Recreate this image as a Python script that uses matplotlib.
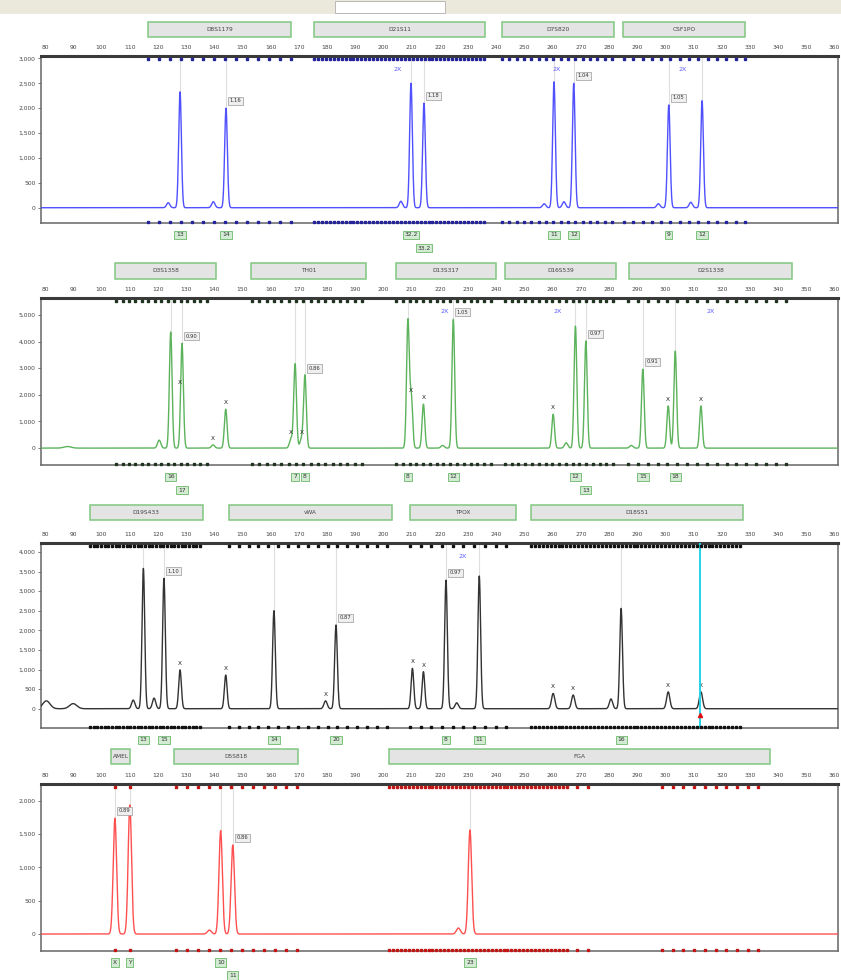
import numpy as np
import matplotlib
matplotlib.use("Agg")
import matplotlib.pyplot as plt
from matplotlib.patches import Rectangle
from matplotlib.transforms import blended_transform_factory

# ---------------------------------------------------------------- data
x_ticks = list(range(80, 361, 10))

# panel 1 - blue dye
p1_markers = ["D8S1179", "D21S11", "D7S820", "CSF1PO"]
p1_marker_lo = [116.7, 175.3, 241.9, 285.1]
p1_marker_hi = [167.3, 236.2, 281.9, 328.1]
p1_bins = [(116.5, 167.5, 3.9), (175.4, 236.0, 1.4), (242.1, 281.4, 2.6), (285.3, 328.2, 3.3)]
p1_peak_bp = [123.7, 127.9, 139.7, 144.2, 206.2, 209.8, 214.4, 257.0, 260.5, 264.0, 267.5, 297.5, 301.2, 309.0, 313.0]
p1_peak_h = [100, 2330, 120, 2000, 130, 2500, 2100, 80, 2530, 120, 2500, 80, 2065, 110, 2150]
p1_allele_bp = [127.9, 144.2, 209.8, 214.4, 260.5, 267.5, 301.2, 313.0]
p1_allele_h = [2330, 2000, 2500, 2100, 2530, 2500, 2065, 2150]
p1_allele_txt = ["13", "14", "32.2", "33.2", "11", "12", "9", "12"]
p1_allele_row = [0, 0, 0, 1, 0, 0, 0, 0]
p1_ratio_bp = [144.2, 214.4, 267.5, 301.2]
p1_ratio_h = [2000, 2100, 2500, 2065]
p1_ratio_txt = ["1.16", "1.18", "1.04", "1.05"]
p1_art_bp = []
p1_art_h = []
p1_2x_bp = [205.2, 261.6, 306.2]

# panel 2 - green dye
p2_markers = ["D3S1358", "TH01", "D13S317", "D16S539", "D2S1338"]
p2_marker_lo = [104.9, 153.0, 204.3, 243.3, 287.0]
p2_marker_hi = [140.5, 194.0, 240.0, 282.4, 345.0]
p2_bins = [(105.2, 139.6, 2.3), (153.4, 193.8, 2.6), (204.5, 240.3, 2.4), (243.1, 282.5, 2.4), (286.7, 344.2, 3.5)]
p2_peak_bp = [88.0, 120.5, 124.6, 128.6, 139.6, 144.1, 167.3, 168.7, 171.0, 172.2, 208.7, 209.9, 214.2, 221.0,
              224.8, 260.2, 264.8, 268.1, 271.8, 287.9, 292.0, 301.0, 303.5, 312.6]
p2_peak_h = [60, 300, 4355, 3930, 120, 1460, 350, 3150, 350, 2710, 4770, 1900, 1650, 100,
             4830, 1270, 200, 4580, 4020, 100, 2960, 1585, 3640, 1585]
p2_allele_bp = [124.6, 128.6, 168.7, 172.2, 208.7, 224.8, 268.1, 271.8, 292.0, 303.5]
p2_allele_h = [4355, 3930, 3150, 2710, 4770, 4830, 4580, 4020, 2960, 3640]
p2_allele_txt = ["16", "17", "7", "8", "8", "12", "12", "13", "15", "18"]
p2_allele_row = [0, 1, 0, 0, 0, 0, 0, 1, 0, 0]
p2_ratio_bp = [128.6, 172.2, 224.8, 271.8, 292.0]
p2_ratio_h = [3930, 2710, 4830, 4020, 2960]
p2_ratio_txt = ["0.90", "0.86", "1.05", "0.97", "0.91"]
p2_art_bp = [128.0, 139.6, 144.1, 167.3, 171.0, 209.9, 214.2, 260.2, 301.0, 312.6]
p2_art_h = [2200, 120, 1460, 350, 350, 1900, 1650, 1270, 1585, 1585]
p2_2x_bp = [221.8, 261.9, 316.2]

# panel 3 - black dye
p3_markers = ["D19S433", "vWA", "TPOX", "D18S51"]
p3_marker_lo = [95.8, 145.2, 209.6, 252.3]
p3_marker_hi = [136.0, 202.9, 247.0, 327.5]
p3_bins = [(96.0, 136.0, 1.3), (145.2, 203.0, 3.5), (209.4, 247.0, 3.8), (252.3, 327.5, 1.4)]
p3_peak_bp = [80.5, 90.0, 111.3, 114.9, 118.7, 122.2, 127.9, 144.1, 161.2, 179.5, 183.2, 210.3, 214.2,
              222.2, 226.0, 234.0, 260.2, 267.3, 280.7, 284.3, 301.0, 312.6]
p3_peak_h = [200, 130, 220, 3580, 270, 3325, 990, 860, 2500, 200, 2135, 1030, 945,
             3280, 150, 3385, 390, 350, 250, 2560, 430, 430]
p3_allele_bp = [114.9, 122.2, 161.2, 183.2, 222.2, 234.0, 284.3]
p3_allele_h = [3580, 3325, 2500, 2135, 3280, 3385, 2560]
p3_allele_txt = ["13", "15", "14", "20", "8", "11", "16"]
p3_allele_row = [0, 0, 0, 0, 0, 0, 0]
p3_ratio_bp = [122.2, 183.2, 222.2]
p3_ratio_h = [3325, 2135, 3280]
p3_ratio_txt = ["1.10", "0.87", "0.97"]
p3_art_bp = [127.9, 144.1, 179.5, 210.3, 214.2, 260.2, 267.3, 301.0, 312.6]
p3_art_h = [990, 860, 200, 1030, 945, 390, 350, 430, 430]
p3_2x_bp = [228.1]
p3_cursor_bp = 312.4

# panel 4 - red dye
p4_markers = ["AMEL", "D5S818", "FGA"]
p4_marker_lo = [103.4, 125.9, 202.0]
p4_marker_hi = [110.3, 169.6, 337.1]
p4_bins = [(104.8, 110.2, 5.3), (126.3, 169.2, 3.9), (202.0, 265.5, 1.4), (268.7, 273.0, 3.9), (298.8, 336.4, 3.8)]
p4_peak_bp = [104.8, 110.1, 138.3, 142.3, 146.6, 226.6, 230.7]
p4_peak_h = [1735, 1935, 60, 1550, 1335, 90, 1560]
p4_allele_bp = [104.8, 110.1, 142.3, 146.6, 230.7]
p4_allele_h = [1735, 1935, 1550, 1335, 1560]
p4_allele_txt = ["X", "Y", "10", "11", "23"]
p4_allele_row = [0, 0, 0, 1, 0]
p4_ratio_bp = [104.8, 146.6]
p4_ratio_h = [1735, 1335]
p4_ratio_txt = ["0.89", "0.86"]
p4_art_bp = []
p4_art_h = []
p4_2x_bp = []

panels = [
    dict(markers=p1_markers, lo=p1_marker_lo, hi=p1_marker_hi, bins=p1_bins,
         pbp=p1_peak_bp, ph=p1_peak_h, abp=p1_allele_bp, ah=p1_allele_h, atxt=p1_allele_txt,
         arow=p1_allele_row, rbp=p1_ratio_bp, rh=p1_ratio_h, rtxt=p1_ratio_txt,
         xbp=p1_art_bp, xh=p1_art_h, twox=p1_2x_bp,
         yticks=range(0, 3001, 500), ylim=(-307, 3055), sigma=0.48,
         color="#5050ff", bincolor="#23239a",
         frame=(55.7, 223.0), box=(22, 37)),
    dict(markers=p2_markers, lo=p2_marker_lo, hi=p2_marker_hi, bins=p2_bins,
         pbp=p2_peak_bp, ph=p2_peak_h, abp=p2_allele_bp, ah=p2_allele_h, atxt=p2_allele_txt,
         arow=p2_allele_row, rbp=p2_ratio_bp, rh=p2_ratio_h, rtxt=p2_ratio_txt,
         xbp=p2_art_bp, xh=p2_art_h, twox=p2_2x_bp,
         yticks=range(0, 5001, 1000), ylim=(-634, 5634), sigma=0.48,
         color="#5cb35c", bincolor="#1f331f",
         frame=(298.0, 465.0), box=(263, 279)),
    dict(markers=p3_markers, lo=p3_marker_lo, hi=p3_marker_hi, bins=p3_bins,
         pbp=p3_peak_bp, ph=p3_peak_h, abp=p3_allele_bp, ah=p3_allele_h, atxt=p3_allele_txt,
         arow=p3_allele_row, rbp=p3_ratio_bp, rh=p3_ratio_h, rtxt=p3_ratio_txt,
         xbp=p3_art_bp, xh=p3_art_h, twox=p3_2x_bp,
         yticks=range(0, 4001, 500), ylim=(-492, 4235), sigma=0.48,
         color="#333333", bincolor="#111111",
         frame=(542.7, 728.0), box=(505, 520)),
    dict(markers=p4_markers, lo=p4_marker_lo, hi=p4_marker_hi, bins=p4_bins,
         pbp=p4_peak_bp, ph=p4_peak_h, abp=p4_allele_bp, ah=p4_allele_h, atxt=p4_allele_txt,
         arow=p4_allele_row, rbp=p4_ratio_bp, rh=p4_ratio_h, rtxt=p4_ratio_txt,
         xbp=p4_art_bp, xh=p4_art_h, twox=p4_2x_bp,
         yticks=range(0, 2001, 500), ylim=(-250, 2249), sigma=0.6,
         color="#ff5050", bincolor="#c41515",
         frame=(784.0, 950.7), box=(749, 764)),
]

# ---------------------------------------------------------------- figure
W, H = 841, 980
fig = plt.figure(figsize=(W / 100, H / 100), dpi=100)
fig.patch.set_facecolor("white")

# toolbar strip at the very top
fig.add_artist(Rectangle((0, 1 - 14 / H), 1, 14 / H, transform=fig.transFigure,
                         fc="#ebe8dc", ec="none"))
fig.add_artist(Rectangle((335 / W, 1 - 13 / H), 110 / W, 12 / H, transform=fig.transFigure,
                         fc="white", ec="#b0b0b0", lw=0.6))

LEFT, RIGHT = 41, 838
XLIM = (78.6, 361.2)
grid = np.arange(XLIM[0], XLIM[1], 0.04)

for p in panels:
    top_px, bot_px = p["frame"]
    ax = fig.add_axes([LEFT / W, 1 - bot_px / H, (RIGHT - LEFT) / W, (bot_px - top_px) / H])
    ax.set_xlim(*XLIM)
    ax.set_ylim(*p["ylim"])
    ymax = p["ylim"][1]

    # trace built from the read-off peaks
    y = np.zeros_like(grid)
    for b, h in zip(p["pbp"], p["ph"]):
        s = p["sigma"] if h > 500 else p["sigma"] + 0.1
        if b < 95:
            s = 1.3
        y += h * np.exp(-0.5 * ((grid - b) / s) ** 2)
    ax.plot(grid, y, color=p["color"], lw=1.0, zorder=3)

    # faint guide lines above called peaks
    for b, h in zip(p["abp"], p["ah"]):
        ax.plot([b, b], [h, ymax], color="#dedede", lw=0.8, zorder=1)

    # bin dots, top and bottom
    tr = blended_transform_factory(ax.transData, ax.transAxes)
    ytop = 1 - 3.3 / (bot_px - top_px)
    for lo, hi, st in p["bins"]:
        bx = np.arange(lo, hi + 0.01, st)
        ax.plot(bx, np.full_like(bx, ytop), ls="none", marker="s", ms=2.0,
                color=p["bincolor"], transform=tr, clip_on=False, zorder=5)
        ax.plot(bx, np.full_like(bx, 0.006), ls="none", marker="s", ms=2.0,
                color=p["bincolor"], transform=tr, clip_on=False, zorder=5)

    # marker boxes above the axis
    btr = blended_transform_factory(ax.transData, fig.transFigure)
    b0, b1 = p["box"]
    for name, lo, hi in zip(p["markers"], p["lo"], p["hi"]):
        ax.add_artist(Rectangle((lo, 1 - b1 / H), hi - lo, (b1 - b0) / H, transform=btr,
                                fc="#e4e4e4", ec="#80c880", lw=1.1, clip_on=False))
        ax.text((lo + hi) / 2, 1 - (b0 + b1) / 2 / H, name, transform=btr, ha="center",
                va="center", fontsize=4.2, color="#444444")

    # allele call boxes below the axis
    for b, t, r in zip(p["abp"], p["atxt"], p["arow"]):
        ax.annotate(t, xy=(b, 0), xycoords=tr, xytext=(0, -8.5 - 9.5 * r),
                    textcoords="offset points", ha="center", va="center",
                    fontsize=4.3, color="#333333", annotation_clip=False,
                    bbox=dict(boxstyle="square,pad=0.3", fc="#d2ebd2", ec="#6cb86c", lw=0.6))

    # peak ratio boxes
    for b, h, t in zip(p["rbp"], p["rh"], p["rtxt"]):
        ax.annotate(t, xy=(b, h), xytext=(2.5, 3.5), textcoords="offset points",
                    ha="left", va="bottom", fontsize=3.8, color="#333333", zorder=6,
                    bbox=dict(boxstyle="square,pad=0.3", fc="#efefef", ec="#9a9a9a", lw=0.5))

    # artifact marks
    for b, h in zip(p["xbp"], p["xh"]):
        ax.annotate("X", xy=(b, h), xytext=(0, 3), textcoords="offset points",
                    ha="center", va="bottom", fontsize=4.2, color="#222222")

    # off-scale tags
    for b in p["twox"]:
        ax.annotate("2X", xy=(b, 1), xycoords=tr, xytext=(0, -10), textcoords="offset points",
                    ha="center", va="center", fontsize=4.5, color="#5a5aff")

    # axes styling
    ax.xaxis.tick_top()
    ax.set_xticks(x_ticks)
    ax.set_xticklabels([str(v) for v in x_ticks])
    ax.tick_params(axis="x", length=0, pad=4, labelsize=4.3, labelcolor="#444444")
    ax.set_yticks(list(p["yticks"]))
    ax.set_yticklabels([f"{v:,}" for v in p["yticks"]])
    ax.tick_params(axis="y", length=2, width=0.6, pad=2, labelsize=4.3, labelcolor="#444444",
                   color="#666666")
    for side in ["left", "right", "bottom"]:
        ax.spines[side].set_color("#666666")
        ax.spines[side].set_linewidth(1.1)
    ax.spines["top"].set_color("#3a3a3a")
    ax.spines["top"].set_linewidth(2.2)

    if p is panels[2]:
        ax.axvline(p3_cursor_bp, color="#22d3e6", lw=1.4, zorder=4)
        ax.plot([p3_cursor_bp], [-170], marker="^", ms=3, color="#e01010", zorder=6)

fig.savefig("out.png", dpi=100)
